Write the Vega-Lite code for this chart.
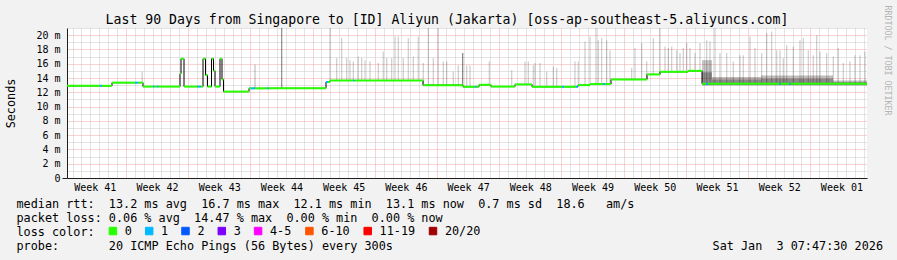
{
  "$schema": "https://vega.github.io/schema/vega-lite/v6.json",
  "width": 800,
  "height": 150,
  "autosize": {"type": "none"},
  "padding": {"left": 67, "top": 28, "right": 30, "bottom": 82},
  "background": "#f2f2f2",
  "config": {
    "view": {"fill": "white", "stroke": null},
    "font": "DejaVu Sans Mono",
    "axis": {"labelFont": "DejaVu Sans Mono", "titleFont": "DejaVu Sans Mono", "titleFontWeight": "normal", "titleColor": "black", "labelColor": "black", "domainColor": "#1f1f1f"}
  },
  "datasets": {
    "median": [
      {"t0":"2025-10-06T09:00:00Z","t1":"2025-10-10T02:06:00Z","v":12.9,"loss":"0"},
      {"t0":"2025-10-10T02:06:00Z","t1":"2025-10-10T07:30:00Z","v":12.9,"loss":"1"},
      {"t0":"2025-10-10T07:30:00Z","t1":"2025-10-11T10:30:00Z","v":12.9,"loss":"0"},
      {"t0":"2025-10-11T10:30:00Z","t1":"2025-10-14T00:36:00Z","v":13.35,"loss":"0"},
      {"t0":"2025-10-14T00:36:00Z","t1":"2025-10-14T08:42:00Z","v":13.35,"loss":"1"},
      {"t0":"2025-10-14T08:42:00Z","t1":"2025-10-14T22:12:00Z","v":13.35,"loss":"0"},
      {"t0":"2025-10-14T22:12:00Z","t1":"2025-10-16T01:12:00Z","v":12.8,"loss":"0"},
      {"t0":"2025-10-16T01:12:00Z","t1":"2025-10-16T05:15:00Z","v":12.8,"loss":"1"},
      {"t0":"2025-10-16T05:15:00Z","t1":"2025-10-16T12:00:00Z","v":12.8,"loss":"0"},
      {"t0":"2025-10-16T12:00:00Z","t1":"2025-10-16T16:03:00Z","v":12.8,"loss":"1"},
      {"t0":"2025-10-16T16:03:00Z","t1":"2025-10-19T02:06:00Z","v":12.8,"loss":"0"},
      {"t0":"2025-10-19T02:06:00Z","t1":"2025-10-19T04:48:00Z","v":14.6,"loss":"0"},
      {"t0":"2025-10-19T04:48:00Z","t1":"2025-10-19T12:54:00Z","v":16.7,"loss":"0"},
      {"t0":"2025-10-19T12:54:00Z","t1":"2025-10-21T01:53:00Z","v":12.8,"loss":"0"},
      {"t0":"2025-10-21T01:53:00Z","t1":"2025-10-21T09:59:00Z","v":12.8,"loss":"1"},
      {"t0":"2025-10-21T09:59:00Z","t1":"2025-10-21T16:12:00Z","v":12.8,"loss":"0"},
      {"t0":"2025-10-21T16:12:00Z","t1":"2025-10-21T22:57:00Z","v":16.7,"loss":"0"},
      {"t0":"2025-10-21T22:57:00Z","t1":"2025-10-22T04:21:00Z","v":14.4,"loss":"0"},
      {"t0":"2025-10-22T04:21:00Z","t1":"2025-10-22T15:09:00Z","v":12.8,"loss":"0"},
      {"t0":"2025-10-22T15:09:00Z","t1":"2025-10-22T20:33:00Z","v":16.7,"loss":"0"},
      {"t0":"2025-10-22T20:33:00Z","t1":"2025-10-23T00:36:00Z","v":15.0,"loss":"0"},
      {"t0":"2025-10-23T00:36:00Z","t1":"2025-10-23T14:06:00Z","v":12.8,"loss":"0"},
      {"t0":"2025-10-23T14:06:00Z","t1":"2025-10-23T19:30:00Z","v":16.7,"loss":"0"},
      {"t0":"2025-10-23T19:30:00Z","t1":"2025-10-23T23:33:00Z","v":13.8,"loss":"0"},
      {"t0":"2025-10-23T23:33:00Z","t1":"2025-10-26T20:24:00Z","v":12.1,"loss":"0"},
      {"t0":"2025-10-26T20:24:00Z","t1":"2025-10-27T01:48:00Z","v":12.55,"loss":"0"},
      {"t0":"2025-10-27T01:48:00Z","t1":"2025-10-27T12:36:00Z","v":12.55,"loss":"1"},
      {"t0":"2025-10-27T12:36:00Z","t1":"2025-10-28T21:00:00Z","v":12.55,"loss":"0"},
      {"t0":"2025-10-28T21:00:00Z","t1":"2025-10-29T01:03:00Z","v":12.55,"loss":"1"},
      {"t0":"2025-10-29T01:03:00Z","t1":"2025-11-04T12:18:00Z","v":12.55,"loss":"0"},
      {"t0":"2025-11-04T12:18:00Z","t1":"2025-11-04T17:42:00Z","v":13.45,"loss":"1"},
      {"t0":"2025-11-04T17:42:00Z","t1":"2025-11-04T23:06:00Z","v":13.45,"loss":"0"},
      {"t0":"2025-11-04T23:06:00Z","t1":"2025-11-07T13:12:00Z","v":13.65,"loss":"0"},
      {"t0":"2025-11-07T13:12:00Z","t1":"2025-11-07T17:15:00Z","v":13.65,"loss":"1"},
      {"t0":"2025-11-07T17:15:00Z","t1":"2025-11-15T10:12:00Z","v":13.65,"loss":"0"},
      {"t0":"2025-11-15T10:12:00Z","t1":"2025-11-19T22:12:00Z","v":13.0,"loss":"0"},
      {"t0":"2025-11-19T22:12:00Z","t1":"2025-11-21T06:36:00Z","v":12.77,"loss":"0"},
      {"t0":"2025-11-21T06:36:00Z","t1":"2025-11-21T10:39:00Z","v":12.77,"loss":"1"},
      {"t0":"2025-11-21T10:39:00Z","t1":"2025-11-21T17:24:00Z","v":12.77,"loss":"0"},
      {"t0":"2025-11-21T17:24:00Z","t1":"2025-11-23T01:48:00Z","v":13.05,"loss":"0"},
      {"t0":"2025-11-23T01:48:00Z","t1":"2025-11-25T18:36:00Z","v":12.8,"loss":"0"},
      {"t0":"2025-11-25T18:36:00Z","t1":"2025-11-27T16:30:00Z","v":13.1,"loss":"0"},
      {"t0":"2025-11-27T16:30:00Z","t1":"2025-12-01T01:30:00Z","v":12.77,"loss":"0"},
      {"t0":"2025-12-01T01:30:00Z","t1":"2025-12-01T06:54:00Z","v":12.77,"loss":"1"},
      {"t0":"2025-12-01T06:54:00Z","t1":"2025-12-02T15:18:00Z","v":12.77,"loss":"0"},
      {"t0":"2025-12-02T15:18:00Z","t1":"2025-12-02T20:42:00Z","v":12.77,"loss":"1"},
      {"t0":"2025-12-02T20:42:00Z","t1":"2025-12-04T05:06:00Z","v":13.0,"loss":"0"},
      {"t0":"2025-12-04T05:06:00Z","t1":"2025-12-05T16:12:00Z","v":13.15,"loss":"0"},
      {"t0":"2025-12-05T16:12:00Z","t1":"2025-12-05T21:36:00Z","v":13.15,"loss":"1"},
      {"t0":"2025-12-05T21:36:00Z","t1":"2025-12-06T13:48:00Z","v":13.15,"loss":"0"},
      {"t0":"2025-12-06T13:48:00Z","t1":"2025-12-10T15:00:00Z","v":13.8,"loss":"0"},
      {"t0":"2025-12-10T15:00:00Z","t1":"2025-12-12T02:06:00Z","v":14.5,"loss":"0"},
      {"t0":"2025-12-12T02:06:00Z","t1":"2025-12-15T05:42:00Z","v":14.87,"loss":"0"},
      {"t0":"2025-12-15T05:42:00Z","t1":"2025-12-16T19:30:00Z","v":15.0,"loss":"0"},
      {"t0":"2025-12-16T19:30:00Z","t1":"2025-12-17T06:18:00Z","v":13.2,"loss":"0"},
      {"t0":"2025-12-17T06:18:00Z","t1":"2025-12-17T11:42:00Z","v":13.2,"loss":"1"},
      {"t0":"2025-12-17T11:42:00Z","t1":"2025-12-25T11:24:00Z","v":13.2,"loss":"0"},
      {"t0":"2025-12-25T11:24:00Z","t1":"2025-12-25T15:27:00Z","v":13.2,"loss":"1"},
      {"t0":"2025-12-25T15:27:00Z","t1":"2025-12-26T14:24:00Z","v":13.2,"loss":"0"},
      {"t0":"2025-12-26T14:24:00Z","t1":"2025-12-26T18:27:00Z","v":13.2,"loss":"1"},
      {"t0":"2025-12-26T18:27:00Z","t1":"2026-01-04T09:00:00Z","v":13.2,"loss":"0"},
      {"t0":"2026-01-04T09:00:00Z","t1":"2026-01-04T09:00:00Z","v":13.2,"loss":"0"}
    ],
    "spikes": [
      {"t":"2025-10-14T20:00:00Z","lo":13.35,"hi":14.9,"density":0.2},
      {"t":"2025-10-27T12:36:00Z","lo":12.55,"hi":15.9,"density":0.25},
      {"t":"2025-10-30T12:40:00Z","lo":12.55,"hi":21,"density":0.45},
      {"t":"2025-11-04T23:05:00Z","lo":13.65,"hi":21,"density":0.2},
      {"t":"2025-11-05T17:11:00Z","lo":13.65,"hi":16.8,"density":0.2},
      {"t":"2025-11-06T06:40:00Z","lo":13.65,"hi":19.6,"density":0.2},
      {"t":"2025-11-06T20:11:00Z","lo":13.65,"hi":16.8,"density":0.2},
      {"t":"2025-11-07T05:05:00Z","lo":13.65,"hi":16.5,"density":0.2},
      {"t":"2025-11-07T14:00:00Z","lo":13.65,"hi":16.3,"density":0.2},
      {"t":"2025-11-08T03:30:00Z","lo":13.65,"hi":17.0,"density":0.2},
      {"t":"2025-11-08T12:40:00Z","lo":13.65,"hi":16.8,"density":0.2},
      {"t":"2025-11-08T21:36:00Z","lo":13.65,"hi":16.5,"density":0.2},
      {"t":"2025-11-09T11:05:00Z","lo":13.65,"hi":16.3,"density":0.2},
      {"t":"2025-11-10T09:30:00Z","lo":13.65,"hi":16.1,"density":0.2},
      {"t":"2025-11-10T23:00:00Z","lo":13.65,"hi":17.7,"density":0.2},
      {"t":"2025-11-11T08:11:00Z","lo":13.65,"hi":16.8,"density":0.2},
      {"t":"2025-11-11T21:40:00Z","lo":13.65,"hi":16.8,"density":0.2},
      {"t":"2025-11-12T06:36:00Z","lo":13.65,"hi":19.8,"density":0.2},
      {"t":"2025-11-12T15:30:00Z","lo":13.65,"hi":19.8,"density":0.2},
      {"t":"2025-11-13T05:00:00Z","lo":13.65,"hi":16.8,"density":0.2},
      {"t":"2025-11-13T18:30:00Z","lo":13.65,"hi":19.6,"density":0.2},
      {"t":"2025-11-14T08:00:00Z","lo":13.65,"hi":17.0,"density":0.2},
      {"t":"2025-11-14T21:30:00Z","lo":13.65,"hi":19.8,"density":0.2},
      {"t":"2025-11-15T11:00:00Z","lo":13.0,"hi":16.1,"density":0.2},
      {"t":"2025-11-16T00:30:00Z","lo":13.0,"hi":21,"density":0.2},
      {"t":"2025-11-16T14:00:00Z","lo":13.0,"hi":16.8,"density":0.2},
      {"t":"2025-11-17T03:30:00Z","lo":13.0,"hi":21,"density":0.2},
      {"t":"2025-11-17T17:00:00Z","lo":13.0,"hi":16.3,"density":0.2},
      {"t":"2025-11-18T02:11:00Z","lo":13.0,"hi":16.3,"density":0.2},
      {"t":"2025-11-18T20:00:00Z","lo":13.0,"hi":14.9,"density":0.2},
      {"t":"2025-11-19T09:30:00Z","lo":13.0,"hi":15.8,"density":0.2},
      {"t":"2025-11-19T21:23:00Z","lo":13.0,"hi":17.5,"density":0.5},
      {"t":"2025-11-20T08:11:00Z","lo":12.77,"hi":15.8,"density":0.2},
      {"t":"2025-11-20T17:05:00Z","lo":12.77,"hi":15.8,"density":0.2},
      {"t":"2025-11-22T21:13:00Z","lo":13.05,"hi":16.3,"density":0.2},
      {"t":"2025-11-25T09:42:00Z","lo":12.8,"hi":15.1,"density":0.2},
      {"t":"2025-11-26T21:36:00Z","lo":13.1,"hi":16.3,"density":0.2},
      {"t":"2025-11-27T06:30:00Z","lo":13.1,"hi":16.3,"density":0.2},
      {"t":"2025-11-27T20:00:00Z","lo":12.77,"hi":15.8,"density":0.2},
      {"t":"2025-11-28T00:36:00Z","lo":12.77,"hi":16.1,"density":0.2},
      {"t":"2025-11-28T14:07:00Z","lo":12.77,"hi":16.1,"density":0.2},
      {"t":"2025-11-29T08:11:00Z","lo":12.77,"hi":14.9,"density":0.2},
      {"t":"2025-11-30T02:00:00Z","lo":12.77,"hi":15.6,"density":0.2},
      {"t":"2025-11-30T11:11:00Z","lo":12.77,"hi":15.4,"density":0.2},
      {"t":"2025-12-02T12:35:00Z","lo":12.77,"hi":16.3,"density":0.2},
      {"t":"2025-12-02T21:30:00Z","lo":13.0,"hi":16.3,"density":0.2},
      {"t":"2025-12-03T15:35:00Z","lo":13.0,"hi":19.1,"density":0.2},
      {"t":"2025-12-04T05:05:00Z","lo":13.15,"hi":19.8,"density":0.2},
      {"t":"2025-12-04T21:17:00Z","lo":13.15,"hi":21,"density":0.2},
      {"t":"2025-12-05T03:30:00Z","lo":13.15,"hi":19.3,"density":0.2},
      {"t":"2025-12-05T12:40:00Z","lo":13.15,"hi":19.6,"density":0.2},
      {"t":"2025-12-06T02:10:00Z","lo":13.15,"hi":19.3,"density":0.2},
      {"t":"2025-12-06T11:05:00Z","lo":13.15,"hi":17.9,"density":0.2},
      {"t":"2025-12-08T21:40:00Z","lo":13.8,"hi":15.4,"density":0.2},
      {"t":"2025-12-09T06:35:00Z","lo":13.8,"hi":18.2,"density":0.2},
      {"t":"2025-12-10T00:40:00Z","lo":13.8,"hi":18.9,"density":0.2},
      {"t":"2025-12-10T14:11:00Z","lo":13.8,"hi":16.3,"density":0.2},
      {"t":"2025-12-11T08:00:00Z","lo":14.5,"hi":19.6,"density":0.2},
      {"t":"2025-12-12T02:05:00Z","lo":14.5,"hi":21,"density":0.2},
      {"t":"2025-12-12T15:36:00Z","lo":14.87,"hi":18.4,"density":0.2},
      {"t":"2025-12-13T00:30:00Z","lo":14.87,"hi":18.2,"density":0.2},
      {"t":"2025-12-13T09:42:00Z","lo":14.87,"hi":18.4,"density":0.2},
      {"t":"2025-12-13T23:11:00Z","lo":14.87,"hi":17.9,"density":0.2},
      {"t":"2025-12-14T08:05:00Z","lo":14.87,"hi":17.5,"density":0.2},
      {"t":"2025-12-14T17:00:00Z","lo":14.87,"hi":18.2,"density":0.2},
      {"t":"2025-12-15T02:11:00Z","lo":14.87,"hi":18.9,"density":0.2},
      {"t":"2025-12-15T11:05:00Z","lo":15.0,"hi":18.2,"density":0.2},
      {"t":"2025-12-16T00:36:00Z","lo":15.0,"hi":17.5,"density":0.2},
      {"t":"2025-12-16T14:05:00Z","lo":15.0,"hi":18.9,"density":0.2},
      {"t":"2025-12-17T08:11:00Z","lo":13.2,"hi":19.3,"density":0.2},
      {"t":"2025-12-17T17:05:00Z","lo":13.2,"hi":19.1,"density":0.2},
      {"t":"2025-12-18T06:35:00Z","lo":13.2,"hi":21,"density":0.2},
      {"t":"2025-12-18T20:05:00Z","lo":13.2,"hi":17.5,"density":0.2},
      {"t":"2025-12-19T14:11:00Z","lo":13.2,"hi":17.5,"density":0.2},
      {"t":"2025-12-20T08:00:00Z","lo":13.2,"hi":16.3,"density":0.2},
      {"t":"2025-12-21T02:05:00Z","lo":13.2,"hi":17.2,"density":0.2},
      {"t":"2025-12-21T11:00:00Z","lo":13.2,"hi":17.2,"density":0.2},
      {"t":"2025-12-22T05:05:00Z","lo":13.2,"hi":19.8,"density":0.2},
      {"t":"2025-12-22T18:36:00Z","lo":13.2,"hi":18.2,"density":0.2},
      {"t":"2025-12-23T12:40:00Z","lo":13.2,"hi":17.5,"density":0.2},
      {"t":"2025-12-24T02:11:00Z","lo":13.2,"hi":20.3,"density":0.2},
      {"t":"2025-12-24T15:40:00Z","lo":13.2,"hi":20.5,"density":0.2},
      {"t":"2025-12-25T05:11:00Z","lo":13.2,"hi":17.9,"density":0.2},
      {"t":"2025-12-25T14:05:00Z","lo":13.2,"hi":17.9,"density":0.2},
      {"t":"2025-12-25T23:00:00Z","lo":13.2,"hi":16.8,"density":0.2},
      {"t":"2025-12-26T08:11:00Z","lo":13.2,"hi":18.6,"density":0.2},
      {"t":"2025-12-27T02:00:00Z","lo":13.2,"hi":18.4,"density":0.2},
      {"t":"2025-12-27T20:05:00Z","lo":13.2,"hi":19.3,"density":0.2},
      {"t":"2025-12-28T05:00:00Z","lo":13.2,"hi":19.6,"density":0.2},
      {"t":"2025-12-28T18:30:00Z","lo":13.2,"hi":17.9,"density":0.2},
      {"t":"2025-12-29T08:00:00Z","lo":13.2,"hi":17.2,"density":0.2},
      {"t":"2025-12-29T17:11:00Z","lo":13.2,"hi":20.0,"density":0.2},
      {"t":"2025-12-30T02:05:00Z","lo":13.2,"hi":17.7,"density":0.2},
      {"t":"2025-12-30T20:11:00Z","lo":13.2,"hi":17.5,"density":0.2},
      {"t":"2025-12-31T14:00:00Z","lo":13.2,"hi":17.0,"density":0.2},
      {"t":"2026-01-01T03:30:00Z","lo":13.2,"hi":18.2,"density":0.2},
      {"t":"2026-01-01T17:00:00Z","lo":13.2,"hi":16.1,"density":0.2},
      {"t":"2026-01-02T11:05:00Z","lo":13.2,"hi":16.3,"density":0.2},
      {"t":"2026-01-03T00:36:00Z","lo":13.2,"hi":17.2,"density":0.2},
      {"t":"2026-01-03T14:05:00Z","lo":13.2,"hi":17.2,"density":0.2},
      {"t":"2026-01-04T03:35:00Z","lo":13.2,"hi":17.7,"density":0.2}
    ],
    "smoke": [
      {"t0":"2025-12-16T19:30:00Z","t1":"2025-12-17T22:30:00Z","lo":12.95,"hi":16.5,"density":0.22},
      {"t0":"2025-12-16T19:30:00Z","t1":"2025-12-17T22:30:00Z","lo":13.0,"hi":14.8,"density":0.3},
      {"t0":"2025-12-17T22:30:00Z","t1":"2025-12-23T10:47:00Z","lo":12.95,"hi":14.15,"density":0.25},
      {"t0":"2025-12-17T22:30:00Z","t1":"2025-12-23T10:47:00Z","lo":13.05,"hi":13.8,"density":0.28},
      {"t0":"2025-12-23T10:47:00Z","t1":"2025-12-31T13:12:00Z","lo":12.95,"hi":14.35,"density":0.25},
      {"t0":"2025-12-23T10:47:00Z","t1":"2025-12-31T13:12:00Z","lo":13.05,"hi":13.9,"density":0.28},
      {"t0":"2025-12-31T13:12:00Z","t1":"2026-01-04T09:00:00Z","lo":12.95,"hi":13.65,"density":0.25},
      {"t0":"2025-12-31T13:12:00Z","t1":"2026-01-04T09:00:00Z","lo":13.05,"hi":13.45,"density":0.22}
    ]
  },
  "layer": [
    {
      "data": {"name": "spikes"},
      "mark": {"type": "rule", "color": "black", "strokeWidth": 1.2},
      "encoding": {
        "x": {
          "field": "t", "type": "temporal",
          "scale": {"type": "utc", "domain": [{"year": 2025, "month": 10, "date": 6, "hours": 9, "utc": true}, {"year": 2026, "month": 1, "date": 4, "hours": 9, "utc": true}]},
          "axis": {
            "orient": "bottom",
            "tickCount": {"interval": "day", "step": 1},
            "grid": true,
            "gridColor": {"condition": {"test": "utcday(datum.value) === 1", "value": "#efa6a6"}, "value": "#c9c9c9"},
            "gridDash": [1, 1],
            "gridWidth": 1,
            "ticks": false,
            "tickSize": 0,
            "labelExpr": "utcday(datum.value) === 4 ? 'Week ' + utcFormat(datum.value, '%V') : ''",
            "labelOffset": 4.44,
            "labelOverlap": false,
            "labelFlush": false,
            "labelFontSize": 10,
            "labelBaseline": "alphabetic",
            "labelPadding": 12.7,
            "domainColor": "#1f1f1f",
            "title": [
              "median rtt:\u00a0\u00a013.2 ms avg\u00a0\u00a016.7 ms max\u00a0\u00a012.1 ms min\u00a0\u00a013.1 ms now\u00a0\u00a00.7 ms sd\u00a0\u00a018.6\u00a0\u00a0\u00a0am/s",
              "packet loss: 0.06 % avg\u00a0\u00a014.47 % max\u00a0\u00a00.00 % min\u00a0\u00a00.00 % now",
              "loss color:",
              "probe:\u00a0\u00a0\u00a0\u00a0\u00a0\u00a0\u00a020 ICMP Echo Pings (56 Bytes) every 300s\u00a0\u00a0\u00a0\u00a0\u00a0\u00a0\u00a0\u00a0\u00a0\u00a0\u00a0\u00a0\u00a0\u00a0\u00a0\u00a0\u00a0\u00a0\u00a0\u00a0\u00a0\u00a0\u00a0\u00a0\u00a0\u00a0\u00a0\u00a0\u00a0\u00a0\u00a0\u00a0\u00a0\u00a0\u00a0\u00a0\u00a0\u00a0\u00a0\u00a0\u00a0\u00a0\u00a0\u00a0\u00a0Sat Jan\u00a0\u00a03 07:47:30 2026"
            ],
            "titleX": -51,
            "titleY": 29.5,
            "titleAlign": "left",
            "titleBaseline": "alphabetic",
            "titleFontSize": 11.8,
            "titleLineHeight": 14,
            "titleLimit": 2000
          }
        },
        "y": {
          "field": "lo", "type": "quantitative",
          "scale": {"domain": [0, 21], "nice": false, "zero": true},
          "axis": {
            "orient": "left",
            "values": [0,1,2,3,4,5,6,7,8,9,10,11,12,13,14,15,16,17,18,19,20,21],
            "grid": true,
            "gridColor": {"condition": {"test": "datum.value % 2 === 0", "value": "#efa6a6"}, "value": "#c9c9c9"},
            "gridDash": [1, 1],
            "tickSize": 5,
            "tickColor": {"condition": {"test": "datum.value === 0", "value": "#1f1f1f"}, "value": "transparent"},
            "labelPadding": 2,
            "labelFontSize": 10,
            "labelOverlap": false,
            "labelExpr": "datum.value % 2 === 1 ? '' : (datum.value === 0 ? '0\u00a0\u00a0' : datum.value + ' m')",
            "domainColor": "#1f1f1f",
            "title": "Seconds",
            "titleFontSize": 11.8,
            "titleAngle": -90,
            "titleX": -57,
            "titleY": 75,
            "titleAlign": "center",
            "titleBaseline": "middle"
          }
        },
        "y2": {"field": "hi"},
        "opacity": {"field": "density", "type": "quantitative", "scale": {"domain": [0, 1], "range": [0, 1]}, "legend": null}
      }
    },
    {
      "data": {"name": "smoke"},
      "mark": {"type": "rect", "color": "black"},
      "encoding": {
        "x": {"field": "t0", "type": "temporal", "scale": {"type": "utc", "domain": [{"year": 2025, "month": 10, "date": 6, "hours": 9, "utc": true}, {"year": 2026, "month": 1, "date": 4, "hours": 9, "utc": true}]}, "axis": null},
        "x2": {"field": "t1"},
        "y": {"field": "lo", "type": "quantitative", "scale": {"domain": [0, 21], "nice": false, "zero": true}, "axis": null},
        "y2": {"field": "hi"},
        "opacity": {"field": "density", "type": "quantitative", "scale": {"domain": [0, 1], "range": [0, 1]}, "legend": null}
      }
    },
    {
      "data": {"name": "median"},
      "mark": {"type": "line", "interpolate": "step-after", "color": "black", "strokeWidth": 1},
      "encoding": {
        "x": {
          "field": "t0", "type": "temporal",
          "scale": {"type": "utc", "domain": [{"year": 2025, "month": 10, "date": 6, "hours": 9, "utc": true}, {"year": 2026, "month": 1, "date": 4, "hours": 9, "utc": true}]},
          "axis": {
            "orient": "top", "grid": false, "ticks": false, "labels": false, "domain": false,
            "title": "Last 90 Days from Singapore to [ID] Aliyun (Jakarta) [oss-ap-southeast-5.aliyuncs.com]",
            "titleX": 379.5, "titleY": -5, "titleAlign": "center", "titleBaseline": "alphabetic",
            "titleFontSize": 13.2, "titleLimit": 2000
          }
        },
        "y": {
          "field": "v", "type": "quantitative",
          "scale": {"domain": [0, 21], "nice": false, "zero": true},
          "axis": {
            "orient": "right", "grid": false, "ticks": false, "labels": false, "domain": false,
            "title": "RRDTOOL / TOBI OETIKER",
            "titleAngle": 90, "titleX": 19, "titleY": -23, "titleAlign": "left", "titleBaseline": "middle",
            "titleFontSize": 8.3, "titleColor": "#b4b4b4", "titleLimit": 2000
          }
        }
      }
    },
    {
      "data": {"name": "median"},
      "mark": {"type": "rule", "strokeWidth": 2},
      "encoding": {
        "x": {"field": "t0", "type": "temporal", "scale": {"type": "utc", "domain": [{"year": 2025, "month": 10, "date": 6, "hours": 9, "utc": true}, {"year": 2026, "month": 1, "date": 4, "hours": 9, "utc": true}]}, "axis": null},
        "x2": {"field": "t1"},
        "y": {"field": "v", "type": "quantitative", "scale": {"domain": [0, 21], "nice": false, "zero": true}, "axis": null},
        "color": {
          "field": "loss", "type": "nominal",
          "scale": {"domain": ["0", "1", "2", "3", "4-5", "6-10", "11-19", "20/20"], "range": ["#26ff00", "#00b8ff", "#0059ff", "#7e00ff", "#ff00ff", "#ff5500", "#ff0000", "#a10000"]},
          "legend": {
            "orient": "none", "legendX": 40, "legendY": 197, "direction": "horizontal", "columns": 8, "title": null,
            "symbolType": "square", "symbolSize": 56, "symbolStrokeWidth": 1, "symbolStrokeColor": "black",
            "labelFont": "DejaVu Sans Mono", "labelFontSize": 11.8, "labelColor": "black", "labelOffset": 6,
            "columnPadding": 11.3, "padding": 0, "rowPadding": 0,
            "encode": {"symbols": {"update": {"fill": {"scale": "color", "field": "value"}, "stroke": {"value": "black"}, "strokeWidth": {"value": 1}, "opacity": {"value": 1}, "fillOpacity": {"value": 1}}}}
          }
        }
      }
    }
  ],
  "resolve": {"axis": {"x": "independent", "y": "independent"}}
}
